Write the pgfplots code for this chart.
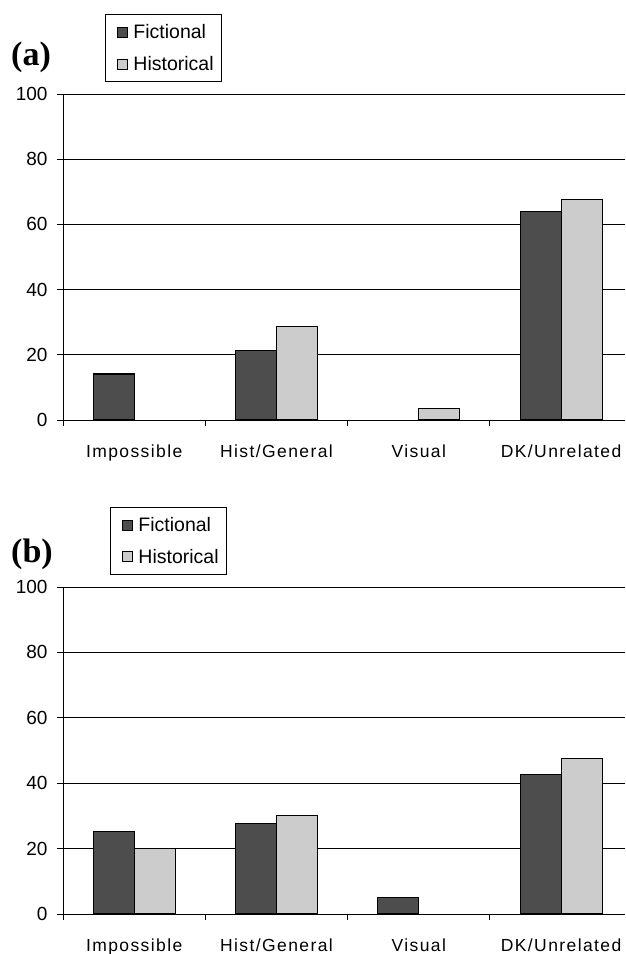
\documentclass[border=0pt]{standalone}
\usepackage{pgfplots}
\pgfplotsset{compat=1.18}
\usepackage{fontspec}
\setmainfont{Liberation Sans}
\newfontfamily\serifbold{Liberation Serif}
\newfontfamily\spaced[LetterSpace=8]{Liberation Sans}
\definecolor{darkbar}{HTML}{4D4D4D}
\definecolor{lightbar}{HTML}{CCCCCC}
\pgfplotsset{
  panel/.style={
    scale only axis,
    width=562pt,
    xmin=-0.5, xmax=3.449,
    ymin=0, ymax=100,
    axis x line*=bottom,
    axis y line*=left,
    axis line style={line width=0.9pt, -},
    ybar=0pt,
    bar width=41pt,
    ytick={0,20,40,60,80,100},
    ymajorgrids,
    grid style={black, line width=0.9pt},
    xtick={0,1,2,3},
    xticklabels={Impossible, Hist/General, Visual, DK/Unrelated},
    major x tick style={draw=none},
    minor xtick={-0.5,0.5,1.5,2.5},
    minor tick length=6pt,
    major tick length=6pt,
    tick align=outside,
    tick style={black, line width=0.9pt},
    yticklabel style={font=\fontsize{19}{21}\selectfont, xshift=-6pt},
    /pgf/number format/assume math mode=true,
    xticklabel style={font=\spaced\fontsize{17.5}{20}\selectfont, yshift=-15pt},
    clip=false,
    legend style={draw=black, line width=0.9pt, font=\fontsize{19.5}{22}\selectfont,
      inner xsep=6pt, inner ysep=8pt, row sep=12pt, cells={anchor=west}},
    legend image code/.code={
      \path[draw=none, fill=none] (0pt,-1pt) rectangle (20pt,1pt);
      \draw[#1, line width=0.9pt, draw=black] (6pt,-5pt) rectangle (16pt,5pt);
    },
  },
  fic/.style={fill=darkbar, draw=black, line width=1.1pt},
  his/.style={fill=lightbar, draw=black, line width=1.1pt},
}
\begin{document}
\begin{tikzpicture}
\useasboundingbox (0,0) rectangle (625pt,954pt);
\begin{axis}[panel, height=326pt, at={(63pt,534pt)}, anchor=south west,
  legend style={at={(0.0747,1.245)}, anchor=north west}]
\addplot[fic] coordinates {(0,14.1) (1,21.2) (3,64.0)};
\addplot[his] coordinates {(1,28.7) (2,3.6) (3,67.5)};
\legend{Fictional, Historical}
\end{axis}
\node[anchor=west, font=\serifbold\bfseries\fontsize{34}{36}\selectfont, inner sep=0pt] at (11pt,897pt) {(a)};
\begin{axis}[panel, height=327pt, at={(63pt,40pt)}, anchor=south west,
  legend style={at={(0.0836,1.245)}, anchor=north west}]
\addplot[fic] coordinates {(0,25.2) (1,27.7) (2,5.1) (3,42.7)};
\addplot[his] coordinates {(0,20.0) (1,30.2) (3,47.6)};
\legend{Fictional, Historical}
\end{axis}
\node[anchor=west, font=\serifbold\bfseries\fontsize{34}{36}\selectfont, inner sep=0pt] at (11pt,400pt) {(b)};
\end{tikzpicture}
\end{document}
